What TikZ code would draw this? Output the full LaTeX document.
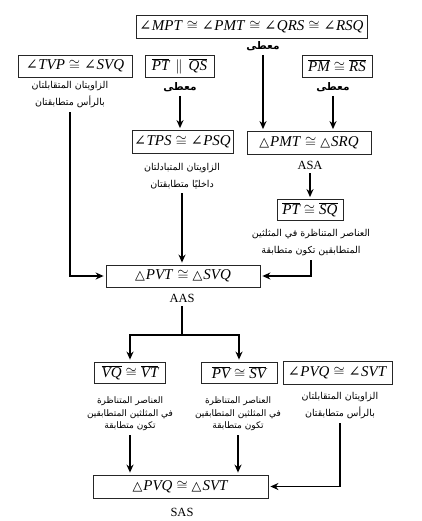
\documentclass[tikz,border=0pt]{standalone}
\usepackage{fontspec}
\setmainfont{Liberation Serif}
\newfontfamily\arabicfont[Script=Arabic]{DejaVu Sans}
\newfontfamily\symf{DejaVu Serif}
\TeXXeTstate=1
\usetikzlibrary{arrows.meta}
\newcommand{\artxt}[1]{\beginR #1\endR}
\newcommand{\sg}[1]{$\overline{\mbox{\itshape #1}}$}
\newcommand{\ang}{{\symf\scalebox{0.95}{∠}}\hspace{0.5pt}}
\newcommand{\cng}{\hspace{4pt}$\cong$\hspace{4pt}}
\newcommand{\tri}{{\symf\scalebox{0.85}{△}}\hspace{1pt}}
\tikzset{
  fbox/.style={draw=black!85, line width=0.8pt, inner sep=0pt, minimum height=22pt,
    font=\fontsize{15}{17}\selectfont},
  lbl/.style={font=\arabicfont\fontsize{9.5}{17}\selectfont, align=center, inner sep=0pt},
  lblt/.style={font=\arabicfont\fontsize{9}{12.5}\selectfont, align=center, inner sep=0pt},
  given/.style={font=\arabicfont\bfseries\fontsize{10.5}{12}\selectfont, inner sep=0pt},
  tag/.style={font=\fontsize{12.5}{14}\selectfont, inner sep=0pt},
  conn/.style={line width=1.6pt},
  arr/.style={conn, -{Stealth[length=8pt,width=7pt]}, shorten >=2pt, shorten <=4pt},
}
\begin{document}
\begin{tikzpicture}[x=1pt,y=-1pt]
\useasboundingbox (0,0) rectangle (421,521);
% row 0
\node[fbox, minimum width=231pt, minimum height=23pt] (top) at (251.5,26.5) {\ang\textit{MPT}\cng\ang\textit{PMT}\cng\ang\textit{QRS}\cng\ang\textit{RSQ}};
\node[given] (g0) at (263,46) {\artxt{معطى}};
% row 1
\node[fbox, minimum width=114pt] (tvp) at (75,66) {\ang\textit{TVP}\cng\ang\textit{SVQ}};
\node[lbl] (tvpl) at (70,95) {\artxt{الزاويتان المتقابلتان}\\\artxt{بالرأس متطابقتان}};
\node[fbox, minimum width=69pt] (ptqs) at (179.5,66) {\sg{PT}\hspace{6pt}$\parallel$\hspace{6pt}\sg{QS}};
\node[given] (ptqsl) at (180,87) {\artxt{معطى}};
\node[fbox, minimum width=70pt] (pmrs) at (337,66) {\sg{PM}\cng\sg{RS}};
\node[given] (pmrsl) at (333,87) {\artxt{معطى}};
% row 2
\node[fbox, minimum width=101pt, minimum height=23pt] (tps) at (182.5,142) {\ang\textit{TPS}\cng\ang\textit{PSQ}};
\node[lbl] (tpsl) at (182,176) {\artxt{الزاويتان المتبادلتان}\\\artxt{داخليًا متطابقتان}};
\node[fbox, minimum width=124pt, minimum height=23pt] (pmt) at (309,143) {\tri\textit{PMT}\cng\tri\textit{SRQ}};
\node[tag] (asa) at (310,165) {ASA};
% row 3
\node[fbox, minimum width=66pt, minimum height=21pt] (ptsq) at (310,210) {\sg{PT}\cng\sg{SQ}};
\node[lbl] (ptsql) at (311,243) {\artxt{العناصر المتناظرة في المثلثين}\\\artxt{المتطابقين تكون متطابقة}};
% row 4
\node[fbox, minimum width=154pt] (pvt) at (183,276) {\tri\textit{PVT}\cng\tri\textit{SVQ}};
\node[tag] (aas) at (182,298) {AAS};
\coordinate (fork) at (182,335);
% row 5
\node[fbox, minimum width=71pt, minimum height=21pt] (vqvt) at (130,372.5) {\sg{VQ}\cng\sg{VT}};
\node[lblt] (vqvtl) at (130,414) {\artxt{العناصر المتناظرة}\\\artxt{في المثلثين المتطابقين}\\\artxt{تكون متطابقة}};
\node[fbox, minimum width=76pt, minimum height=21pt] (pvsv) at (239,372.5) {\sg{PV}\cng\sg{SV}};
\node[lblt] (pvsvl) at (238,414) {\artxt{العناصر المتناظرة}\\\artxt{في المثلثين المتطابقين}\\\artxt{تكون متطابقة}};
\node[fbox, minimum width=109pt, minimum height=23pt] (pvq) at (337.5,372.5) {\ang\textit{PVQ}\cng\ang\textit{SVT}};
\node[lbl] (pvql) at (340,406) {\artxt{الزاويتان المتقابلتان}\\\artxt{بالرأس متطابقتان}};
% row 6
\node[fbox, minimum width=175pt, minimum height=23pt] (svt) at (180.5,486.5) {\tri\textit{PVQ}\cng\tri\textit{SVT}};
\node[tag] (sas) at (182,512) {SAS};
% connectors
\draw[arr] (g0.south) -- (g0.south |- pmt.north);
\draw[arr] (ptqsl.south) -- (ptqsl.south |- tps.north);
\draw[arr] (pmrsl.south) -- (pmrsl.south |- pmt.north);
\draw[arr] (tvpl.south) |- (pvt.west);
\draw[arr] (tpsl.south) -- (tpsl.south |- pvt.north);
\draw[arr] (asa.south) -- (asa.south |- ptsq.north);
\draw[arr] (ptsql.south) |- (pvt.east);
\draw[conn, shorten <=4pt] (aas.south) -- (fork);
\draw[arr, shorten <=0pt] (fork) -| (vqvt.north);
\draw[arr, shorten <=0pt] (fork) -| (pvsv.north);
\draw[arr] (vqvtl.south) -- (vqvtl.south |- svt.north);
\draw[arr] (pvsvl.south) -- (pvsvl.south |- svt.north);
\draw[arr] (pvql.south) |- (svt.east);
\end{tikzpicture}
\end{document}
